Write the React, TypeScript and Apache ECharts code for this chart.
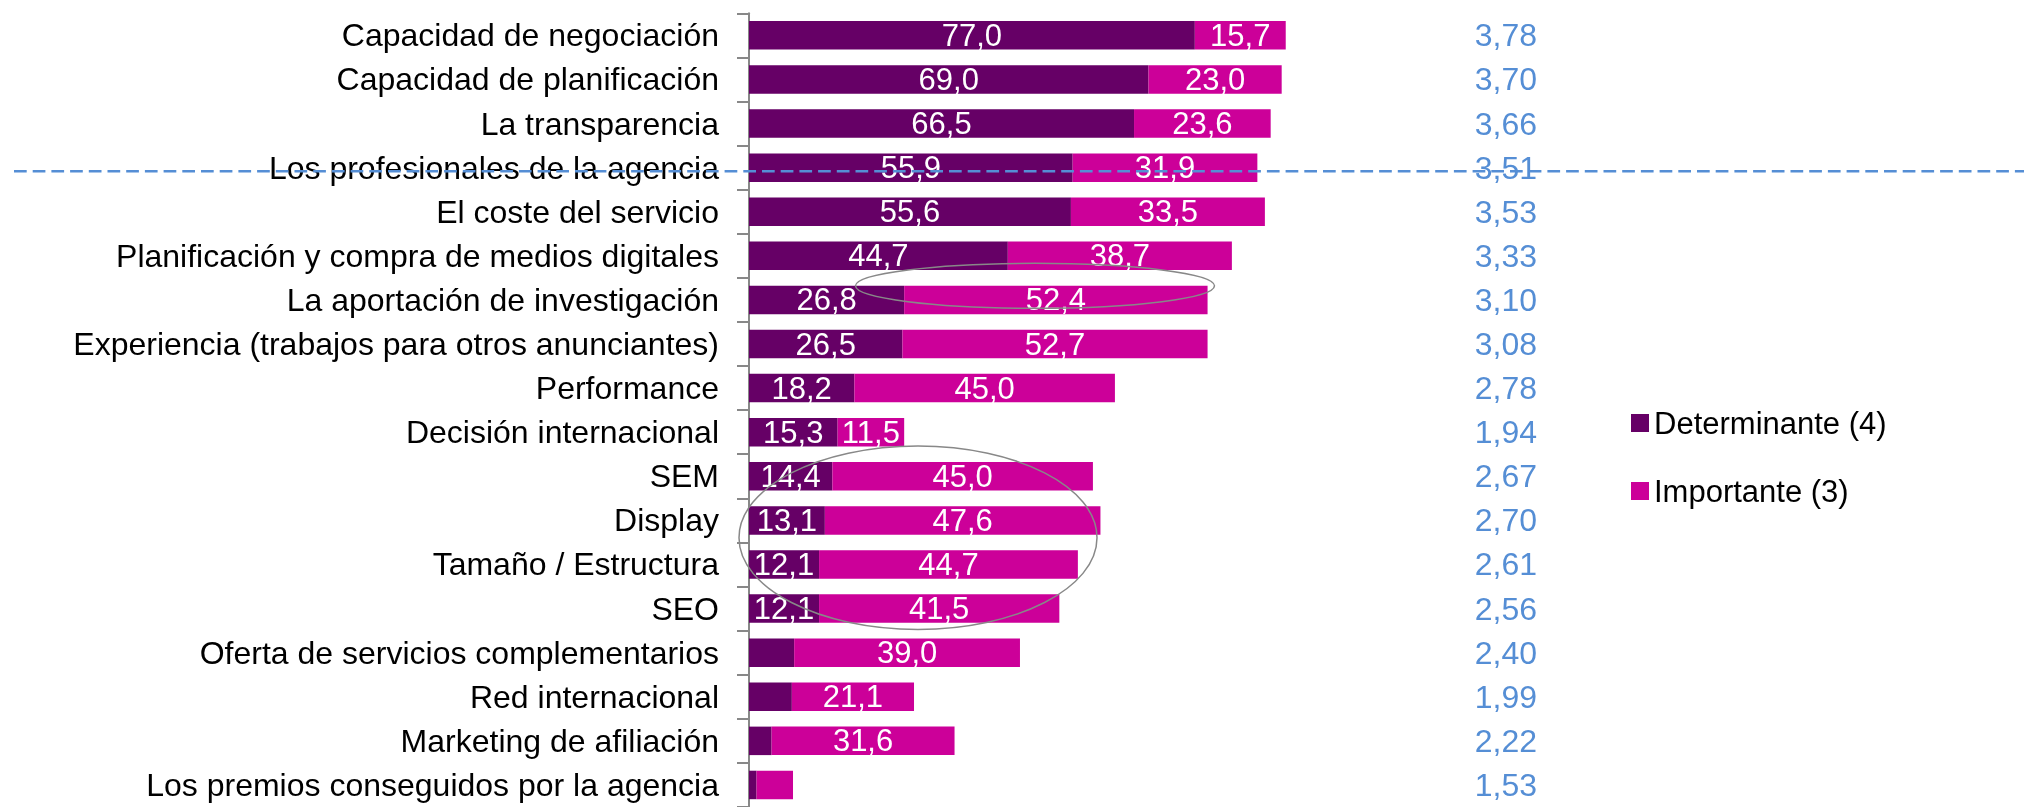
import React, { useEffect, useRef } from "react";
import * as echarts from "echarts";

const categories = [
  "Capacidad de negociación",
  "Capacidad de planificación",
  "La transparencia",
  "Los profesionales de la agencia",
  "El coste del servicio",
  "Planificación y compra de medios digitales",
  "La aportación de investigación",
  "Experiencia (trabajos para otros anunciantes)",
  "Performance",
  "Decisión internacional",
  "SEM",
  "Display",
  "Tamaño / Estructura",
  "SEO",
  "Oferta de servicios complementarios",
  "Red internacional",
  "Marketing de afiliación",
  "Los premios conseguidos por la agencia",
];

const determinante = [77.0, 69.0, 66.5, 55.9, 55.6, 44.7, 26.8, 26.5, 18.2, 15.3, 14.4, 13.1, 12.1, 12.1, 7.8, 7.4, 3.9, 1.3];
const importante = [15.7, 23.0, 23.6, 31.9, 33.5, 38.7, 52.4, 52.7, 45.0, 11.5, 45.0, 47.6, 44.7, 41.5, 39.0, 21.1, 31.6, 6.3];
const medias = [3.78, 3.70, 3.66, 3.51, 3.53, 3.33, 3.10, 3.08, 2.78, 1.94, 2.67, 2.70, 2.61, 2.56, 2.40, 1.99, 2.22, 1.53];

const seriesNames = ["Determinante (4)", "Importante (3)"];
const seriesColors = ["#660066", "#CC0099"];

const fmt1 = (v: number) => v.toFixed(1).replace(".", ",");
const fmt2 = (v: number) => v.toFixed(2).replace(".", ",");

export default function App() {
  const ref = useRef<HTMLDivElement>(null);

  useEffect(() => {
    if (!ref.current) return;
    const chart = echarts.init(ref.current, null, { renderer: "svg" });
    const FONT = "'Liberation Sans', Arial, Helvetica, sans-serif";
    const valueLabel = {
      show: true,
      position: "inside",
      color: "#ffffff",
      fontSize: 31,
      fontFamily: FONT,
      formatter: (p: any) => (p.value < 10 ? "" : fmt1(p.value)),
    };

    chart.setOption({
      animation: false,
      grid: { left: 749, top: 13.3, width: 694.8, height: 797 },
      xAxis: { type: "value", min: 0, max: 120, show: false },
      yAxis: [
        {
          type: "category",
          data: categories,
          inverse: true,
          axisLine: { show: true, lineStyle: { color: "#888888", width: 2 } },
          axisTick: { show: true, length: 12, lineStyle: { color: "#888888", width: 2 } },
          axisLabel: { margin: 30, fontSize: 32, color: "#000000", fontFamily: FONT },
          splitLine: { show: false },
        },
        {
          type: "category",
          data: categories,
          inverse: true,
          position: "right",
          axisLine: { show: false },
          axisTick: { show: false },
          splitLine: { show: false },
          axisLabel: {
            margin: 31,
            fontSize: 32,
            color: "#558ED5",
            fontFamily: FONT,
            formatter: (_v: string, i: number) => fmt2(medias[i]),
          },
        },
      ],
      legend: {
        data: seriesNames,
        orient: "vertical",
        left: 1626,
        top: 401,
        itemWidth: 18,
        itemHeight: 18,
        itemGap: 34,
        icon: "rect",
        textStyle: { fontSize: 31, lineHeight: 34, color: "#000000", fontFamily: FONT },
      },
      series: [
        {
          name: seriesNames[0],
          type: "bar",
          stack: "total",
          data: determinante,
          barWidth: 28.5,
          itemStyle: { color: seriesColors[0] },
          label: valueLabel,
        },
        {
          name: seriesNames[1],
          type: "bar",
          stack: "total",
          data: importante,
          barWidth: 28.5,
          itemStyle: { color: seriesColors[1] },
          label: valueLabel,
        },
      ],
      graphic: [
        {
          type: "line",
          z: 100,
          shape: { x1: 14, y1: 171.3, x2: 2024, y2: 171.3 },
          style: { stroke: "#558ED5", lineWidth: 2.5, lineDash: [12.7, 6] },
        },
        {
          type: "ellipse",
          z: 100,
          shape: { cx: 1035, cy: 285.8, rx: 179.5, ry: 22.5 },
          style: { fill: "none", stroke: "#888888", lineWidth: 1.5 },
        },
        {
          type: "ellipse",
          z: 100,
          shape: { cx: 918, cy: 537.7, rx: 179, ry: 91.7 },
          style: { fill: "none", stroke: "#888888", lineWidth: 1.5 },
        },
      ],
    });

    return () => chart.dispose();
  }, []);

  return (
    <div
      ref={ref}
      style={{ position: "fixed", left: 0, top: 0, width: 2024, height: 807 }}
    />
  );
}
